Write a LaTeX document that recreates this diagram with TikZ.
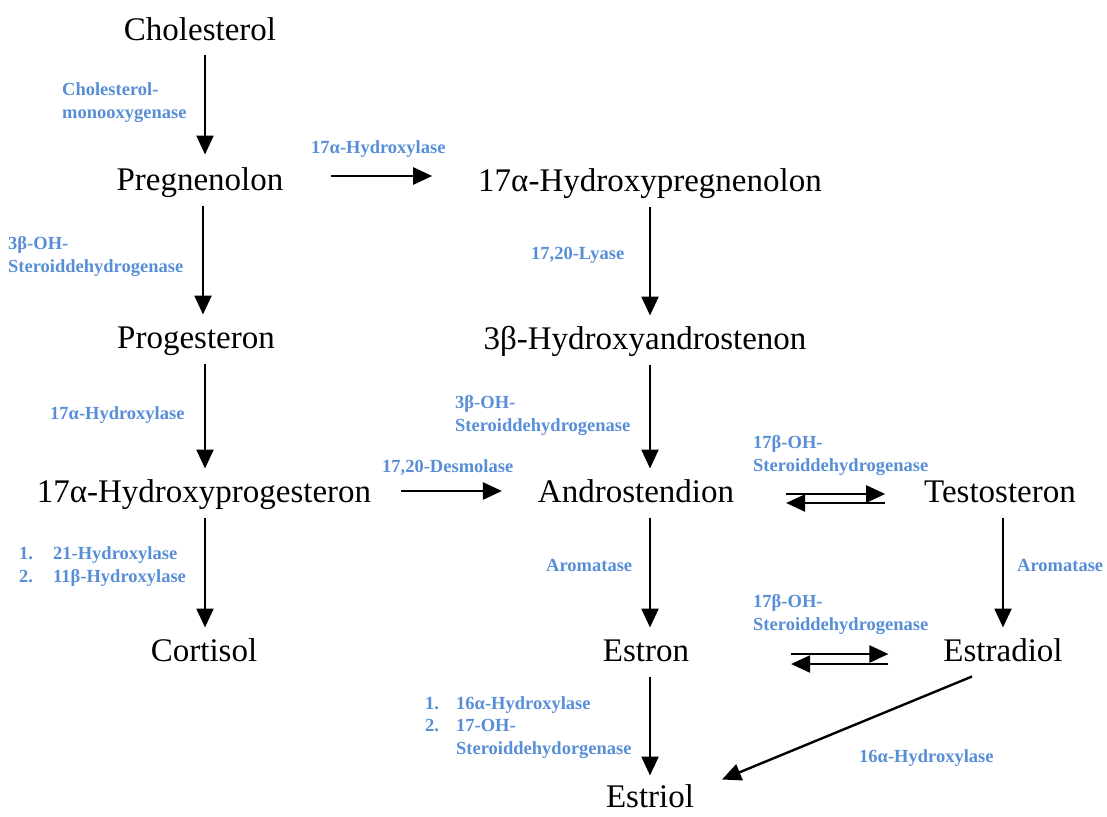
\documentclass[tikz,border=0pt]{standalone}
\usepackage{fontspec}
\setmainfont{Liberation Serif}
\usetikzlibrary{positioning, arrows.meta, calc}
\definecolor{EnzBlue}{RGB}{88,142,214}

\tikzset{
  stoff/.style={font=\fontsize{33}{38}\selectfont, inner sep=0pt, text height=22pt, text depth=7pt, outer sep=8pt},
  enzym/.style={font=\bfseries\fontsize{18.5}{22.5}\selectfont, text=EnzBlue, inner sep=0pt, align=left, anchor=base west},
  pfeil/.style={-{Triangle[length=19pt, width=17pt]}, line width=2.4pt},
}
\newcommand{\nr}[2]{\makebox[#1][l]{#2}}

\begin{document}
\begin{tikzpicture}[x=1pt, y=-1pt]
  \useasboundingbox (0,0) rectangle (1107,816);
  % Stoffe
  \node[stoff] (CH)   at (200,33)  {Cholesterol};
  \node[stoff] (PREG) at (200,183) {Pregnenolon};
  \node[stoff] (PROG) at (196,341) {Progesteron};
  \node[stoff] (HPRO) at (204,495) {17α-Hydroxyprogesteron};
  \node[stoff] (CORT) at (204,654) {Cortisol};
  \node[stoff] (HPRE) at (650,184) {17α-Hydroxypregnenolon};
  \node[stoff] (HAND) at (645,342) {3β-Hydroxyandrostenon};
  \node[stoff] (AND)  at (636,495) {Androstendion};
  \node[stoff] (TES)  at (1000,495) {Testosteron};
  \node[stoff] (EON)  at (646,654) {Estron};
  \node[stoff] (EDL)  at (1003,654) {Estradiol};
  \node[stoff, text depth=3pt] (ETL) at (650,798) {Estriol};

  % Reaktionen
  \draw[pfeil] ([xshift=5]CH.south) -- ([xshift=5,yshift=6]PREG.north);
  \draw[pfeil] ([xshift=3]PREG.south) -- ([xshift=7,yshift=4]PROG.north);
  \draw[pfeil] ([xshift=9]PROG.south) -- ([xshift=1,yshift=4]HPRO.north);
  \draw[pfeil] ([xshift=1]HPRO.south) -- ([xshift=1,yshift=4]CORT.north);
  \draw[pfeil, shorten <=40pt, shorten >=38pt] ([yshift=7]PREG.east) -- ([yshift=8]HPRE.west);
  \draw[pfeil] (HPRE.south) -- ([xshift=5,yshift=4]HAND.north);
  \draw[pfeil] ([xshift=5]HAND.south) -- ([xshift=14,yshift=4]AND.north);
  \draw[pfeil, shorten <=22pt, shorten >=28pt] ([yshift=4]HPRO.east) -- ([yshift=4]AND.west);
  \draw[pfeil] ([xshift=14]AND.south) -- ([xshift=4,yshift=4]EON.north);
  \draw[pfeil] ([xshift=4]EON.south) -- ([yshift=2]ETL.north);
  \draw[pfeil] ([xshift=3]TES.south) -- ([yshift=4]EDL.north);
  \draw[pfeil] ([xshift=-31]EDL.south) -- ([xshift=20,yshift=-2]ETL.north east);

  % Gleichgewichte
  \draw[pfeil, shorten <=44pt, shorten >=31pt] ([yshift=1]AND.east) -- ([yshift=1]TES.west);
  \draw[pfeil, shorten <=31pt, shorten >=44pt] ([yshift=-8]TES.west) -- ([yshift=-8]AND.east);
  \draw[pfeil, shorten <=94pt, shorten >=47pt] (EON.east) -- (EDL.west);
  \draw[pfeil, shorten <=47pt, shorten >=94pt] ([yshift=-10]EDL.west) -- ([yshift=-10]EON.east);

  % Enzyme
  \node[enzym] (e1)  at (62,118)  {Cholesterol-\\monooxygenase};
  \node[enzym] (e2)  at (311,153) {17α-Hydroxylase};
  \node[enzym] (e3)  at (8,272)   {3β-OH-\\Steroiddehydrogenase};
  \node[enzym] (e4)  at (531,259) {17,20-Lyase};
  \node[enzym] (e5)  at (50,419)  {17α-Hydroxylase};
  \node[enzym] (e6)  at (455,431) {3β-OH-\\Steroiddehydrogenase};
  \node[enzym] (e7)  at (382,472) {17,20-Desmolase};
  \node[enzym] (e8)  at (753,471) {17β-OH-\\Steroiddehydrogenase};
  \node[enzym] (e9)  at (19,582)  {\nr{34pt}{1.}21-Hydroxylase\\\nr{34pt}{2.}11β-Hydroxylase};
  \node[enzym] (e10) at (546,571) {Aromatase};
  \node[enzym] (e11) at (1017,571) {Aromatase};
  \node[enzym] (e12) at (753,630) {17β-OH-\\Steroiddehydrogenase};
  \node[enzym] (e13) at (425,754) {\nr{31pt}{1.}16α-Hydroxylase\\\nr{31pt}{2.}17-OH-\\\hspace*{31pt}Steroiddehydorgenase};
  \node[enzym] (e14) at (859,762) {16α-Hydroxylase};
\end{tikzpicture}
\end{document}
